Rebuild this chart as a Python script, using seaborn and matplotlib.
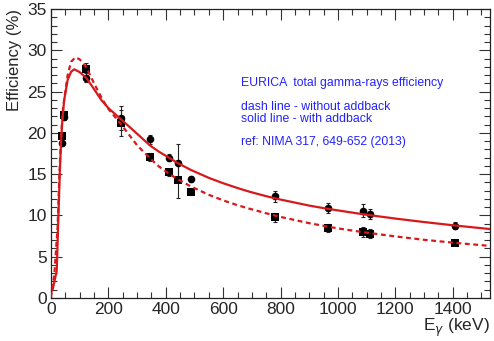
import numpy as np
import pandas as pd
import matplotlib
matplotlib.use("Agg")
import matplotlib.pyplot as plt
import seaborn as sns
from matplotlib.ticker import MultipleLocator

# ---- data ----
energy = [40, 45, 122, 245, 344, 411, 444, 488, 779, 964, 1086, 1112, 1408]
eff_addback = [18.8, 21.9, 26.7, 21.8, 19.2, 17.0, 16.4, 14.4, 12.3, 10.85, 10.55, 10.2, 8.75]
err_addback = [0.4, 0.4, 0.6, 1.5, 0.5, 0.4, 2.2, 0.4, 0.7, 0.6, 0.8, 0.6, 0.4]
eff_noadd = [19.6, 22.2, 27.7, 21.2, 17.1, 15.2, 14.3, 12.85, 9.75, 8.5, 7.95, 7.8, 6.68]
err_noadd = [0.4, 0.4, 0.7, 1.6, 0.5, 0.4, 2.2, 0.4, 0.6, 0.5, 0.6, 0.5, 0.3]

solid_x = [5, 20, 26, 31, 36, 40, 46, 58, 70, 81, 100, 122, 150, 175, 200, 245, 300,
           344, 377, 411, 441, 488, 550, 600, 650, 691, 750, 800, 900, 964, 1086,
           1200, 1300, 1408, 1530]
solid_y = [0.9, 3.3, 10.0, 15.5, 19.5, 21.7, 24.0, 26.4, 27.4, 27.7, 27.35, 26.7,
           25.3, 24.0, 23.0, 21.6, 19.9, 18.5, 17.7, 17.0, 16.35, 15.5, 14.55, 13.9,
           13.32, 12.88, 12.33, 11.92, 11.19, 10.8, 10.15, 9.62, 9.2, 8.78, 8.35]
dash_x = [0, 12, 23, 29, 35, 42, 50, 58, 70, 85, 100, 122, 150, 180, 200, 245, 300,
          344, 377, 411, 441, 488, 550, 600, 650, 691, 750, 800, 900, 964, 1000, 1086,
          1200, 1300, 1408, 1530]
dash_y = [0.1, 3.0, 8.6, 14.7, 19.5, 23.0, 25.0, 27.0, 28.6, 29.15, 28.9, 28.0, 26.0,
          24.0, 22.9, 21.0, 18.5, 16.95, 15.9, 15.06, 14.4, 13.5, 12.5, 11.82, 11.24,
          10.82, 10.26, 9.82, 9.06, 8.65, 8.43, 7.98, 7.46, 7.05, 6.68, 6.31]

texts = ["EURICA  total gamma-rays efficiency",
         "dash line - without addback",
         "solid line - with addback",
         "ref: NIMA 317, 649-652 (2013)"]

sns.set_theme(style="ticks")
plt.rcParams['font.family'] = ['Liberation Sans', 'DejaVu Sans']

fig = plt.figure(figsize=(4.94, 3.41), dpi=100)
ax = fig.add_axes([51/494, 1-298/341, (490-51)/494, (298-9)/341])

red = "#d7191c"
pts = pd.DataFrame({"E": energy, "add": eff_addback, "noadd": eff_noadd})

ax.errorbar(energy, eff_addback, yerr=err_addback, fmt="none", ecolor="#222222",
            elinewidth=0.8, capsize=1.5, capthick=0.8, zorder=2)
ax.errorbar(energy, eff_noadd, yerr=err_noadd, fmt="none", ecolor="#222222",
            elinewidth=0.8, capsize=1.5, capthick=0.8, zorder=2)
sns.scatterplot(data=pts, x="E", y="add", marker="o", s=30, color="black",
                edgecolor="black", linewidth=0, ax=ax, zorder=3)
sns.scatterplot(data=pts, x="E", y="noadd", marker="s", s=30, color="black",
                edgecolor="black", linewidth=0, ax=ax, zorder=3)

sol = pd.DataFrame({"x": solid_x, "y": solid_y})
das = pd.DataFrame({"x": dash_x, "y": dash_y})
sns.lineplot(data=sol, x="x", y="y", color=red, lw=1.6, ax=ax, zorder=4,
             sort=False, estimator=None)
sns.lineplot(data=das, x="x", y="y", color=red, lw=1.6, ax=ax, zorder=4,
             sort=False, estimator=None, linestyle=(0, (2.2, 1.6)))

ax.set_xlim(0, 1530)
ax.set_ylim(0, 35)
ax.xaxis.set_major_locator(MultipleLocator(200))
ax.xaxis.set_minor_locator(MultipleLocator(50))
ax.yaxis.set_major_locator(MultipleLocator(5))
ax.yaxis.set_minor_locator(MultipleLocator(1))
ax.tick_params(which="both", direction="in", top=True, right=True,
               labelsize=12.5, color="#333333", width=0.8, pad=3)
ax.tick_params(which="major", length=8)
ax.tick_params(which="minor", length=4)
for s in ax.spines.values():
    s.set_linewidth(0.9)
    s.set_color("#222222")

ax.set_xlabel("")
ax.set_ylabel("")
fig.text(490/494, 1-328/341, r"E$_\gamma$ (keV)", ha="right", va="center",
         fontsize=12.5)
fig.text(14/494, 1-9/341, "Efficiency (%)", rotation=90, ha="center", va="top",
         fontsize=12)

ypos = [83, 107, 119, 142]
for t, yp in zip(texts, ypos):
    fig.text(241/494, 1-yp/341, t, color="#2222ff", fontsize=8.8, ha="left",
             va="center")

fig.savefig("out.png", dpi=100)
